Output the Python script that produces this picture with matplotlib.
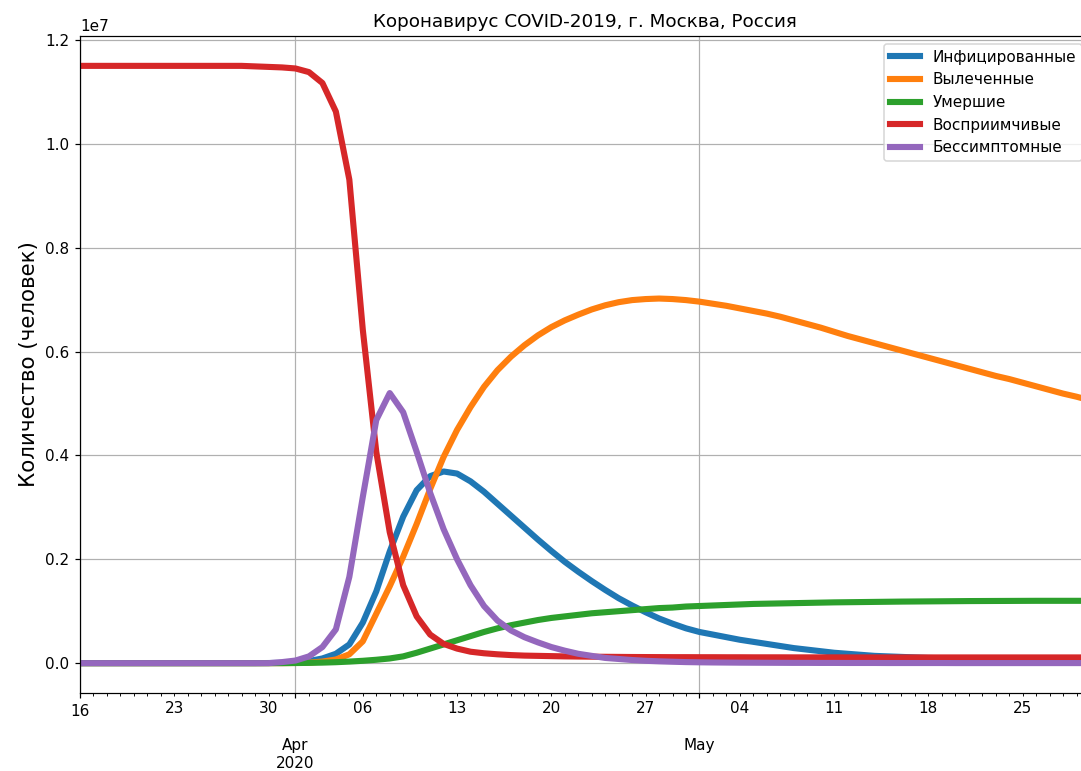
import numpy as np
import pandas as pd
import matplotlib
matplotlib.use('Agg')
import matplotlib.pyplot as plt

# daily model output, millions of people, 16 Mar .. 30 May 2020
dates = pd.date_range('2020-03-16', periods=76, freq='D')

infected = [0.0] * 14 + [
    0.002, 0.005, 0.015, 0.04, 0.09, 0.18, 0.36, 0.78, 1.38, 2.15,
    2.82, 3.33, 3.60, 3.69, 3.65, 3.50, 3.30, 3.07, 2.84, 2.61,
    2.38, 2.16, 1.95, 1.76, 1.58, 1.41, 1.25, 1.11, 0.98, 0.86,
    0.76, 0.67, 0.60, 0.55, 0.50, 0.45, 0.41, 0.37, 0.33, 0.29,
    0.26, 0.23, 0.20, 0.18, 0.16, 0.14, 0.13, 0.12, 0.11, 0.10,
    0.095, 0.09, 0.085, 0.08, 0.075, 0.07, 0.065, 0.06, 0.057, 0.054,
    0.051, 0.048]

recovered = [0.0] * 16 + [
    0.003, 0.01, 0.03, 0.07, 0.17, 0.42, 0.95, 1.48, 2.05, 2.68,
    3.35, 3.97, 4.49, 4.93, 5.32, 5.64, 5.90, 6.12, 6.31, 6.47,
    6.60, 6.71, 6.81, 6.89, 6.95, 6.99, 7.01, 7.02, 7.01, 6.99,
    6.96, 6.92, 6.88, 6.83, 6.78, 6.73, 6.67, 6.60, 6.53, 6.46,
    6.38, 6.30, 6.23, 6.16, 6.09, 6.02, 5.95, 5.88, 5.81, 5.74,
    5.67, 5.60, 5.53, 5.47, 5.40, 5.33, 5.26, 5.19, 5.13, 5.06]

dead = [0.0] * 16 + [
    0.002, 0.005, 0.01, 0.018, 0.03, 0.045, 0.065, 0.09, 0.13, 0.20,
    0.28, 0.36, 0.44, 0.52, 0.60, 0.67, 0.73, 0.78, 0.83, 0.87,
    0.90, 0.93, 0.96, 0.98, 1.00, 1.02, 1.04, 1.06, 1.07, 1.09,
    1.10, 1.11, 1.12, 1.13, 1.14, 1.145, 1.15, 1.155, 1.16, 1.165,
    1.17, 1.173, 1.176, 1.179, 1.182, 1.185, 1.187, 1.189, 1.191, 1.193,
    1.195, 1.196, 1.197, 1.198, 1.199, 1.20, 1.20, 1.20, 1.20, 1.20]

susceptible = [11.50] * 13 + [
    11.49, 11.48, 11.47, 11.45, 11.38, 11.17, 10.62, 9.31, 6.42, 4.07,
    2.52, 1.50, 0.90, 0.55, 0.37, 0.28, 0.22, 0.19, 0.17, 0.155,
    0.145, 0.14, 0.135, 0.13, 0.127, 0.124, 0.122, 0.12, 0.118, 0.117,
    0.116, 0.115, 0.115, 0.114, 0.114, 0.113, 0.113, 0.112, 0.112, 0.112,
    0.111, 0.111, 0.111, 0.111, 0.11, 0.11, 0.11, 0.11, 0.11, 0.11,
    0.11, 0.11, 0.11, 0.11, 0.11, 0.11, 0.11, 0.11, 0.11, 0.11,
    0.11, 0.11, 0.11]

asymptomatic = [0.0] * 15 + [
    0.02, 0.05, 0.13, 0.31, 0.65, 1.66, 3.20, 4.68, 5.20, 4.83,
    4.07, 3.28, 2.58, 2.00, 1.50, 1.10, 0.82, 0.63, 0.50, 0.40,
    0.31, 0.24, 0.18, 0.14, 0.10, 0.08, 0.06, 0.045, 0.035, 0.027,
    0.02, 0.016, 0.013, 0.011, 0.009, 0.008, 0.007, 0.006, 0.005, 0.005,
    0.004, 0.004, 0.003, 0.003, 0.003, 0.002, 0.002, 0.002, 0.002, 0.002,
    0.001, 0.001, 0.001, 0.001, 0.001, 0.001, 0.001, 0.001, 0.001, 0.001,
    0.001]

labels = ['Инфицированные', 'Вылеченные', 'Умершие', 'Восприимчивые', 'Бессимптомные']

df = pd.DataFrame({
    labels[0]: np.array(infected) * 1e6,
    labels[1]: np.array(recovered) * 1e6,
    labels[2]: np.array(dead) * 1e6,
    labels[3]: np.array(susceptible) * 1e6,
    labels[4]: np.array(asymptomatic) * 1e6,
}, index=dates)

fig = plt.figure(figsize=(1081 / 110, 771 / 110), dpi=110)
# axes runs a little past the right edge, as in the original (cropped) picture
ax = fig.add_axes([80 / 1081, 78 / 771, 1010 / 1081, 657 / 771])
df.plot(ax=ax, lw=4)

ax.set_title('Коронавирус COVID-2019, г. Москва, Россия')
ax.set_ylabel('Количество (человек)', fontsize=14)
ax.grid()
ax.legend(loc='upper right')

fig.savefig('out.png', dpi=110)
